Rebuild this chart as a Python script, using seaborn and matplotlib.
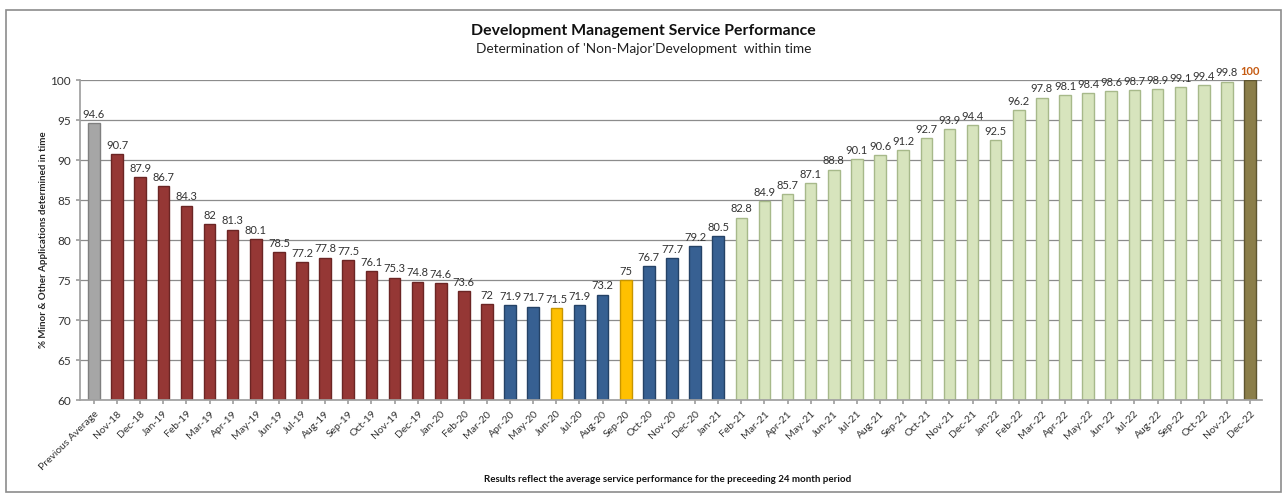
import matplotlib
matplotlib.use("Agg")
import matplotlib.pyplot as plt
import matplotlib.patches as mpatches
import seaborn as sns
import pandas as pd

categories = ["Previous Average", "Nov-18", "Dec-18", "Jan-19", "Feb-19", "Mar-19", "Apr-19", "May-19",
              "Jun-19", "Jul-19", "Aug-19", "Sep-19", "Oct-19", "Nov-19", "Dec-19", "Jan-20", "Feb-20",
              "Mar-20", "Apr-20", "May-20", "Jun-20", "Jul-20", "Aug-20", "Sep-20", "Oct-20", "Nov-20",
              "Dec-20", "Jan-21", "Feb-21", "Mar-21", "Apr-21", "May-21", "Jun-21", "Jul-21", "Aug-21",
              "Sep-21", "Oct-21", "Nov-21", "Dec-21", "Jan-22", "Feb-22", "Mar-22", "Apr-22", "May-22",
              "Jun-22", "Jul-22", "Aug-22", "Sep-22", "Oct-22", "Nov-22", "Dec-22"]
values = [94.6, 90.7, 87.9, 86.7, 84.3, 82, 81.3, 80.1, 78.5, 77.2, 77.8, 77.5, 76.1, 75.3, 74.8, 74.6,
          73.6, 72, 71.9, 71.7, 71.5, 71.9, 73.2, 75, 76.7, 77.7, 79.2, 80.5, 82.8, 84.9, 85.7, 87.1,
          88.8, 90.1, 90.6, 91.2, 92.7, 93.9, 94.4, 92.5, 96.2, 97.8, 98.1, 98.4, 98.6, 98.7, 98.9, 99.1,
          99.4, 99.8, 100]
groups = (["avg"] + ["red"] * 17 + ["blue", "blue", "yellow", "blue", "blue", "yellow",
          "blue", "blue", "blue", "blue"] + ["green"] * 22 + ["final"])
value_labels = ["94.6", "90.7", "87.9", "86.7", "84.3", "82", "81.3", "80.1", "78.5", "77.2", "77.8",
                "77.5", "76.1", "75.3", "74.8", "74.6", "73.6", "72", "71.9", "71.7", "71.5", "71.9",
                "73.2", "75", "76.7", "77.7", "79.2", "80.5", "82.8", "84.9", "85.7", "87.1", "88.8",
                "90.1", "90.6", "91.2", "92.7", "93.9", "94.4", "92.5", "96.2", "97.8", "98.1", "98.4",
                "98.6", "98.7", "98.9", "99.1", "99.4", "99.8", "100"]

palette = {"avg": "#A6A6A6", "red": "#953735", "blue": "#376092", "yellow": "#FFC000",
           "green": "#D7E4BD", "final": "#8B7E4A"}
edge = {"avg": "#7F7F7F", "red": "#6B2524", "blue": "#244266", "yellow": "#C79500",
        "green": "#A7B98A", "final": "#5E5530"}

df = pd.DataFrame({"cat": categories, "val": values, "grp": groups})

sns.set_theme(style="white")
plt.rcParams["font.family"] = ["Lato", "DejaVu Sans"]

fig = plt.figure(figsize=(12.87, 4.94), dpi=100)
ax = fig.add_axes([0.0622, 0.19, 0.9184, 0.648])

sns.barplot(data=df, x="cat", y="val", hue="grp", palette=palette, dodge=False,
            width=0.5, legend=False, ax=ax, saturation=1)

for p in ax.patches:
    idx = int(round(p.get_x() + p.get_width() / 2))
    if 0 <= idx < len(groups):
        p.set_edgecolor(edge[groups[idx]])
        p.set_linewidth(1.0)

ax.set_ylim(60, 100)
ax.set_xlim(-0.6, len(categories) - 0.48)
ax.set_yticks(range(60, 101, 5))
ax.yaxis.grid(True, color="#8C8C8C", linewidth=0.9)
ax.set_axisbelow(True)
for s in ["top", "right"]:
    ax.spines[s].set_visible(False)
ax.spines["left"].set_color("#A0A0A0")
ax.spines["bottom"].set_color("#A0A0A0")
ax.tick_params(axis="y", labelsize=8.5, colors="#333333", length=3, left=True, color="#A0A0A0")
ax.tick_params(axis="x", labelsize=7.5, colors="#333333", length=3, bottom=True, color="#A0A0A0")
ax.set_xticks(range(len(categories)))
ax.set_xticklabels(categories, rotation=45, ha="right", rotation_mode="anchor")
ax.set_xlabel("")
ax.set_ylabel("% Minor & Other Applications determined in time", fontsize=7,
              fontweight="bold", labelpad=2)

for i, (v, lab) in enumerate(zip(values, value_labels)):
    if i == len(values) - 1:
        ax.text(i, v + 0.4, lab, ha="center", va="bottom", fontsize=8, color="#C55A11",
                fontweight="bold")
    else:
        ax.text(i, v + 0.4, lab, ha="center", va="bottom", fontsize=8, color="#333333")

fig.text(0.5, 0.937, "Development Management Service Performance", ha="center", va="center",
         fontsize=11.4, fontweight="bold", color="#111111")
fig.text(0.5, 0.900, "Determination of 'Non-Major'Development  within time", ha="center",
         va="center", fontsize=9.8, color="#222222")
fig.text(0.519, 0.030, "Results reflect the average service performance for the preceeding 24 month period",
         ha="center", va="center", fontsize=7, fontweight="bold", color="#111111")

fig.patches.append(mpatches.Rectangle((0.005, 0.005), 0.99, 0.975, transform=fig.transFigure,
                                      fill=False, edgecolor="#8C8C8C", linewidth=1.2))

fig.savefig("out.png", dpi=100)
